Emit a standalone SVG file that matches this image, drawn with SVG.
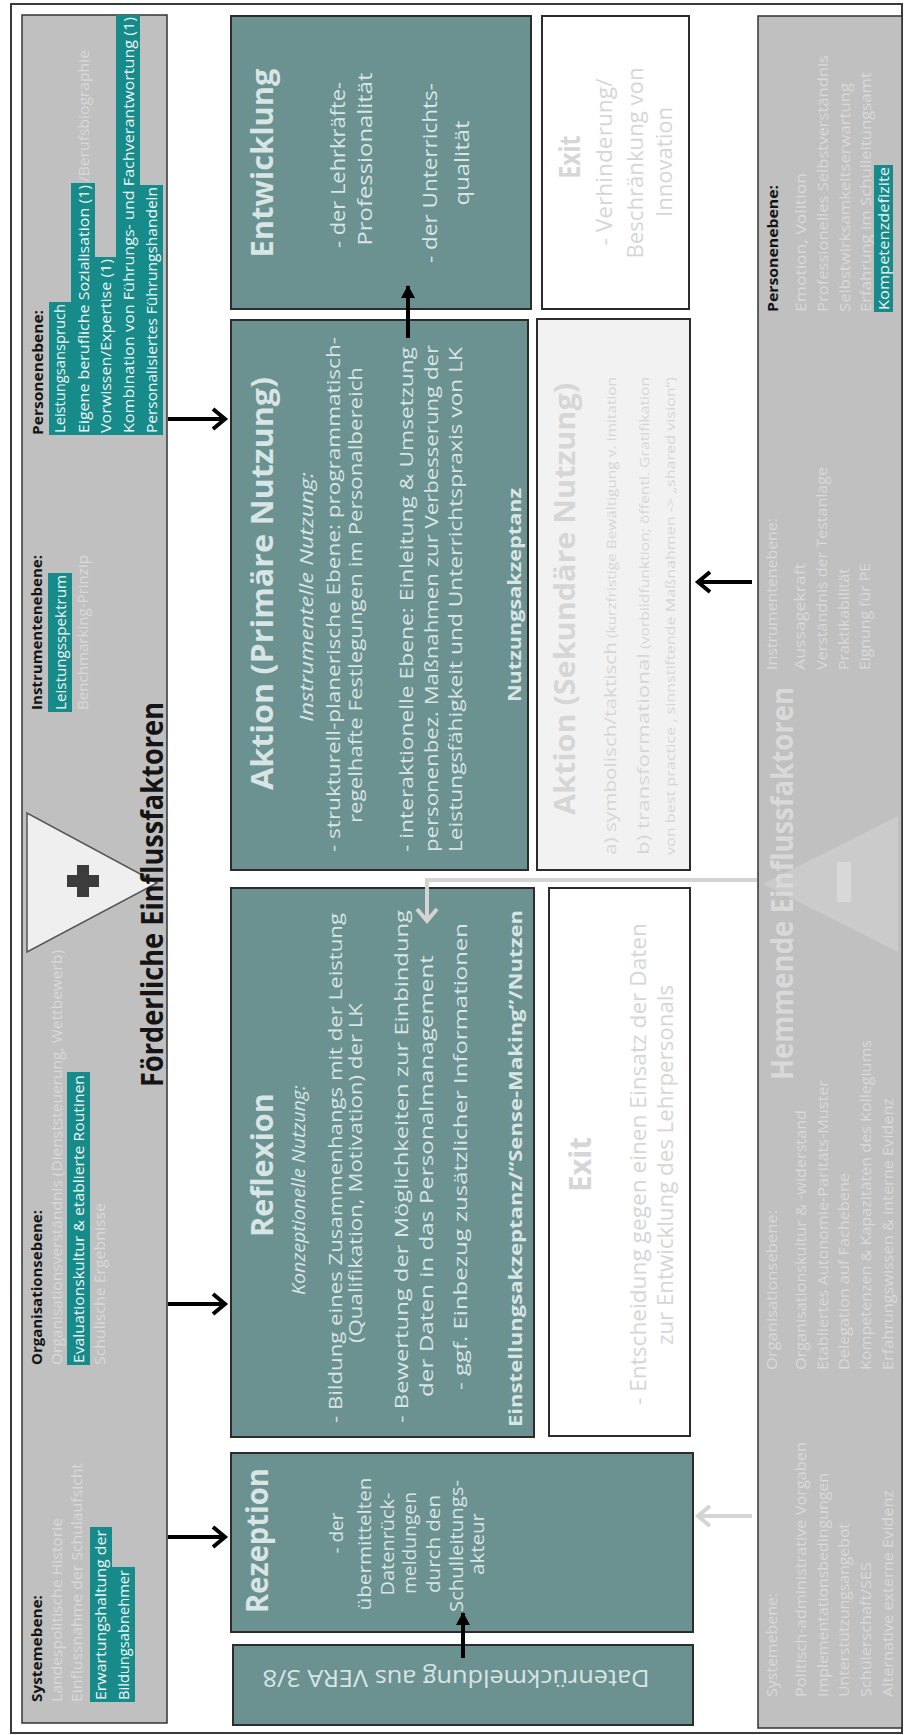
<svg xmlns="http://www.w3.org/2000/svg" width="904" height="1735" viewBox="0 0 904 1735">
  <style>
    .t { font-family: 'Open Sans', 'Liberation Sans', sans-serif; }
    .b { font-weight: bold; }
    .i { font-style: italic; }
    .bk { fill: #141414; }
    .ft { fill: #d9d9d9; }
    .lt { fill: #d8e5e5; }
    .xt { fill: #d6d6d6; }
    .ht { fill: #eef6f6; }
    .hl { fill: #178a8a; }
    .panel { fill: #c0c0c0; stroke: #333333; stroke-width: 1.5; }
    .teal { fill: #6b9191; stroke: #2c2c2c; stroke-width: 2; }
    .white { fill: #ffffff; stroke: #2c2c2c; stroke-width: 2; }
    .pale { fill: #f2f2f2; stroke: #2c2c2c; stroke-width: 2; }
    .arr { fill: none; stroke: #000000; stroke-width: 4; }
    .garr { fill: none; stroke: #d4d4d4; stroke-width: 4; }
  </style>
  <defs>
    <marker id="chev" markerUnits="userSpaceOnUse" markerWidth="22" markerHeight="26" refX="15" refY="13" orient="auto">
      <path d="M3,3 L15,13 L3,23" fill="none" stroke="#000000" stroke-width="4" stroke-linejoin="miter"/>
    </marker>
    <marker id="chevg" markerUnits="userSpaceOnUse" markerWidth="22" markerHeight="26" refX="15" refY="13" orient="auto">
      <path d="M3,3 L15,13 L3,23" fill="none" stroke="#d4d4d4" stroke-width="4" stroke-linejoin="miter"/>
    </marker>
    <marker id="tri" markerUnits="userSpaceOnUse" markerWidth="16" markerHeight="16" refX="12" refY="8" orient="auto">
      <path d="M0,1 L13,8 L0,15 Z" fill="#000000"/>
    </marker>
  </defs>

  <rect x="0" y="0" width="904" height="1735" fill="#ffffff"/>
  <rect x="11" y="4" width="891" height="1729" fill="none" stroke="#3a3a3a" stroke-width="2"/>

  <!-- landscape layout, turned a quarter to the left -->
  <g transform="translate(0,1735) rotate(-90)">

    <!-- supporting factors panel -->
    <g id="foerderliche-faktoren">
      <rect class="panel" x="12" y="22" width="1708" height="145"/>
      <polygon points="783,27 922,27 852,157" fill="#efefef" stroke="#555555" stroke-width="1.5"/>
      <path d="M848,67 h12 v10 h10 v12 h-10 v10 h-12 v-10 h-10 v-12 h10 z" fill="#3c3c3c"/>

      <text class="t b bk" x="33" y="42" font-size="14" textLength="107" lengthAdjust="spacingAndGlyphs">Systemebene:</text>
      <text class="t ft" x="33" y="62" font-size="14" textLength="184" lengthAdjust="spacingAndGlyphs">Landespolitische  Historie</text>
      <text class="t ft" x="33" y="82" font-size="14" textLength="239" lengthAdjust="spacingAndGlyphs">Einflussnahme der Schulaufsicht</text>
      <rect class="hl" x="33" y="90" width="175" height="22"/>
      <text class="t ht" x="35" y="106" font-size="14" textLength="170" lengthAdjust="spacingAndGlyphs">Erwartungshaltung  der</text>
      <rect class="hl" x="33" y="112" width="135" height="23"/>
      <text class="t ht" x="35" y="129" font-size="14" textLength="130" lengthAdjust="spacingAndGlyphs">Bildungsabnehmer</text>

      <text class="t b bk" x="370" y="42" font-size="14" textLength="155" lengthAdjust="spacingAndGlyphs">Organisationsebene:</text>
      <text class="t ft" x="370" y="62" font-size="14" textLength="415" lengthAdjust="spacingAndGlyphs">Organisationsverständnis (Dienststeuerung,  Wettbewerb)</text>
      <rect class="hl" x="370" y="67" width="293" height="23"/>
      <text class="t ht" x="372" y="84" font-size="14" textLength="288" lengthAdjust="spacingAndGlyphs">Evaluationskultur &amp; etablierte Routinen</text>
      <text class="t ft" x="370" y="105" font-size="14" textLength="162" lengthAdjust="spacingAndGlyphs">Schulische Ergebnisse</text>

      <text class="t b bk" x="1025" y="42" font-size="14" textLength="155" lengthAdjust="spacingAndGlyphs">Instrumentenebene:</text>
      <rect class="hl" x="1023" y="48" width="139" height="24"/>
      <text class="t ht" x="1025" y="66" font-size="14" textLength="135" lengthAdjust="spacingAndGlyphs">Leistungsspektrum</text>
      <text class="t ft" x="1025" y="88" font-size="14" textLength="155" lengthAdjust="spacingAndGlyphs">Benchmarking-Prinzip</text>

      <text class="t b bk" x="1300" y="43" font-size="14" textLength="125" lengthAdjust="spacingAndGlyphs">Personenebene:</text>
      <rect class="hl" x="1300" y="49" width="133" height="22"/>
      <text class="t ht" x="1302" y="65" font-size="14" textLength="129" lengthAdjust="spacingAndGlyphs">Leistungsanspruch</text>
      <rect class="hl" x="1300" y="71" width="252" height="24"/>
      <text class="t ht" x="1302" y="89" font-size="14" textLength="248" lengthAdjust="spacingAndGlyphs">Eigene berufliche  Sozialisation (1)</text>
      <text class="t ft" x="1553" y="89" font-size="14" textLength="132" lengthAdjust="spacingAndGlyphs">/Berufsbiographie</text>
      <rect class="hl" x="1300" y="95" width="178" height="21"/>
      <text class="t ht" x="1302" y="111" font-size="14" textLength="174" lengthAdjust="spacingAndGlyphs">Vorwissen/Expertise (1)</text>
      <rect class="hl" x="1300" y="116" width="420" height="24"/>
      <text class="t ht" x="1302" y="134" font-size="14" textLength="416" lengthAdjust="spacingAndGlyphs">Kombination von Führungs- und Fachverantwortung (1)</text>
      <rect class="hl" x="1300" y="140" width="250" height="23"/>
      <text class="t ht" x="1302" y="157" font-size="14" textLength="246" lengthAdjust="spacingAndGlyphs">Personalisiertes  Führungshandeln</text>

      <text class="t b bk" x="648" y="163" font-size="30" textLength="385" lengthAdjust="spacingAndGlyphs">Förderliche Einflussfaktoren</text>
    </g>

    <!-- hindering factors panel -->
    <g id="hemmende-faktoren">
      <rect class="panel" x="7" y="758" width="1712" height="144"/>
      <polygon points="783,898 919,898 851,763" fill="#cbcbcb"/>
      <rect x="833" y="837" width="40" height="14" fill="#d8d8d8"/>

      <text class="t ft" x="38" y="777" font-size="14" textLength="104" lengthAdjust="spacingAndGlyphs">Systemebene:</text>
      <text class="t ft" x="38" y="806" font-size="14" textLength="255" lengthAdjust="spacingAndGlyphs">Politisch-administrative  Vorgaben</text>
      <text class="t ft" x="38" y="828" font-size="14" textLength="224" lengthAdjust="spacingAndGlyphs">Implementationsbedingungen</text>
      <text class="t ft" x="38" y="849" font-size="14" textLength="174" lengthAdjust="spacingAndGlyphs">Unterstützungsangebot</text>
      <text class="t ft" x="38" y="871" font-size="14" textLength="135" lengthAdjust="spacingAndGlyphs">Schülerschaft/SES</text>
      <text class="t ft" x="38" y="893" font-size="14" textLength="207" lengthAdjust="spacingAndGlyphs">Alternative  externe Evidenz</text>

      <text class="t ft" x="365" y="777" font-size="14" textLength="160" lengthAdjust="spacingAndGlyphs">Organisationsebene:</text>
      <text class="t ft" x="365" y="806" font-size="14" textLength="260" lengthAdjust="spacingAndGlyphs">Organisationskultur &amp; -widerstand</text>
      <text class="t ft" x="365" y="828" font-size="14" textLength="290" lengthAdjust="spacingAndGlyphs">Etabliertes Autonomie-Paritäts-Muster</text>
      <text class="t ft" x="365" y="849" font-size="14" textLength="197" lengthAdjust="spacingAndGlyphs">Delegation auf Fachebene</text>
      <text class="t ft" x="365" y="871" font-size="14" textLength="330" lengthAdjust="spacingAndGlyphs">Kompetenzen &amp; Kapazitäten  des Kollegiums</text>
      <text class="t ft" x="365" y="893" font-size="14" textLength="272" lengthAdjust="spacingAndGlyphs">Erfahrungswissen &amp; interne Evidenz</text>

      <text class="t ft" x="1065" y="777" font-size="14" textLength="152" lengthAdjust="spacingAndGlyphs">Instrumentenebene:</text>
      <text class="t ft" x="1065" y="805" font-size="14" textLength="107" lengthAdjust="spacingAndGlyphs">Aussagekraft</text>
      <text class="t ft" x="1065" y="827" font-size="14" textLength="203" lengthAdjust="spacingAndGlyphs">Verständnis der Testanlage</text>
      <text class="t ft" x="1065" y="849" font-size="14" textLength="102" lengthAdjust="spacingAndGlyphs">Praktikabilität</text>
      <text class="t ft" x="1065" y="870" font-size="14" textLength="107" lengthAdjust="spacingAndGlyphs">Eignung für PE</text>

      <text class="t b bk" x="1423" y="778" font-size="14" textLength="127" lengthAdjust="spacingAndGlyphs">Personenebene:</text>
      <text class="t ft" x="1423" y="806" font-size="14" textLength="139" lengthAdjust="spacingAndGlyphs">Emotion, Volition</text>
      <text class="t ft" x="1423" y="828" font-size="14" textLength="257" lengthAdjust="spacingAndGlyphs">Professionelles  Selbstverständnis</text>
      <text class="t ft" x="1423" y="850" font-size="14" textLength="229" lengthAdjust="spacingAndGlyphs">Selbstwirksamkeitserwartung</text>
      <text class="t ft" x="1423" y="871" font-size="14" textLength="240" lengthAdjust="spacingAndGlyphs">Erfahrung im Schulleitungsamt</text>
      <rect class="hl" x="1423" y="874" width="147" height="19"/>
      <text class="t ht" x="1425" y="889" font-size="14" textLength="143" lengthAdjust="spacingAndGlyphs">Kompetenzdefizite</text>

      <text class="t b ft" x="655" y="793" font-size="30" textLength="393" lengthAdjust="spacingAndGlyphs">Hemmende Einflussfaktoren</text>
    </g>

    <!-- data feedback -->
    <g id="datenrueckmeldung">
      <rect class="teal" x="10" y="233" width="80" height="460"/>
      <text class="t lt" transform="translate(65,456) rotate(-90)" text-anchor="middle" font-size="24" textLength="387" lengthAdjust="spacingAndGlyphs">Datenrückmeldung  aus VERA 3/8</text>
    </g>

    <!-- reception -->
    <g id="rezeption">
      <rect class="teal" x="103" y="231" width="179" height="462"/>
      <text class="t b lt" x="122" y="268" font-size="30" textLength="145" lengthAdjust="spacingAndGlyphs">Rezeption</text>
      <g class="t lt" font-size="19" text-anchor="middle">
        <text x="202" y="343">- der</text>
        <text x="191" y="371" textLength="133" lengthAdjust="spacingAndGlyphs">übermittelten</text>
        <text x="191" y="394" textLength="103" lengthAdjust="spacingAndGlyphs">Datenrück-</text>
        <text x="192" y="416" textLength="102" lengthAdjust="spacingAndGlyphs">meldungen</text>
        <text x="191" y="440" textLength="98" lengthAdjust="spacingAndGlyphs">durch den</text>
        <text x="189" y="463" textLength="132" lengthAdjust="spacingAndGlyphs">Schulleitungs-</text>
        <text x="191" y="484" textLength="62" lengthAdjust="spacingAndGlyphs">akteur</text>
      </g>
    </g>

    <!-- reflection -->
    <g id="reflexion">
      <rect class="teal" x="298" y="231" width="549" height="303"/>
      <text class="t b lt" x="498" y="273" font-size="30" textLength="144" lengthAdjust="spacingAndGlyphs">Reflexion</text>
      <text class="t i lt" x="440" y="305" font-size="18" textLength="210" lengthAdjust="spacingAndGlyphs">Konzeptionelle Nutzung:</text>
      <g class="t lt" font-size="18">
        <text x="312" y="342" textLength="510" lengthAdjust="spacingAndGlyphs">- Bildung eines Zusammenhangs mit der Leistung</text>
        <text x="392" y="362" textLength="340" lengthAdjust="spacingAndGlyphs">(Qualifikation,  Motivation) der LK</text>
        <text x="312" y="408" textLength="513" lengthAdjust="spacingAndGlyphs">- Bewertung der Möglichkeiten zur Einbindung</text>
        <text x="338" y="433" textLength="442" lengthAdjust="spacingAndGlyphs">der Daten in das Personalmanagement</text>
        <text x="345" y="467" textLength="467" lengthAdjust="spacingAndGlyphs">- ggf. Einbezug zusätzlicher Informationen</text>
      </g>
      <text class="t b lt" x="308" y="522" font-size="18" textLength="517" lengthAdjust="spacingAndGlyphs">Einstellungsakzeptanz/“Sense-Making”/Nutzen</text>
    </g>

    <!-- exit after reflection -->
    <g id="exit-reflexion">
      <rect class="white" x="299" y="549" width="548" height="141"/>
      <text class="t b xt" x="543" y="591" font-size="30" textLength="55" lengthAdjust="spacingAndGlyphs">Exit</text>
      <text class="t xt" x="330" y="646" font-size="21" textLength="482" lengthAdjust="spacingAndGlyphs">- Entscheidung gegen einen Einsatz der Daten</text>
      <text class="t xt" x="390" y="673" font-size="21" textLength="360" lengthAdjust="spacingAndGlyphs">zur Entwicklung des Lehrpersonals</text>
    </g>

    <!-- primary use -->
    <g id="aktion-primaer">
      <rect class="teal" x="865" y="231" width="550" height="297"/>
      <text class="t b lt" x="945" y="273" font-size="30" textLength="413" lengthAdjust="spacingAndGlyphs">Aktion (Primäre Nutzung)</text>
      <text class="t i lt" x="1013" y="313" font-size="18" textLength="250" lengthAdjust="spacingAndGlyphs">Instrumentelle Nutzung:</text>
      <g class="t lt" font-size="18">
        <text x="883" y="340" textLength="515" lengthAdjust="spacingAndGlyphs">- strukturell-planerische  Ebene: programmatisch-</text>
        <text x="912" y="362" textLength="456" lengthAdjust="spacingAndGlyphs">regelhafte Festlegungen im Personalbereich</text>
        <text x="883" y="413" textLength="505" lengthAdjust="spacingAndGlyphs">- interaktionelle Ebene: Einleitung &amp; Umsetzung</text>
        <text x="883" y="438" textLength="507" lengthAdjust="spacingAndGlyphs">personenbez. Maßnahmen zur Verbesserung der</text>
        <text x="883" y="462" textLength="505" lengthAdjust="spacingAndGlyphs">Leistungsfähigkeit und Unterrichtspraxis von LK</text>
      </g>
      <text class="t b lt" x="1033" y="521" font-size="18" textLength="214" lengthAdjust="spacingAndGlyphs">Nutzungsakzeptanz</text>
    </g>

    <!-- secondary use -->
    <g id="aktion-sekundaer">
      <rect class="pale" x="865" y="537" width="551" height="153"/>
      <text class="t b xt" x="920" y="575" font-size="28" textLength="432" lengthAdjust="spacingAndGlyphs">Aktion (Sekundäre Nutzung)</text>
      <text class="t xt" x="880" y="616" font-size="17" textLength="213" lengthAdjust="spacingAndGlyphs">a) symbolisch/taktisch</text>
      <text class="t xt" x="1097" y="616" font-size="12" textLength="261" lengthAdjust="spacingAndGlyphs">(kurzfristige Bewältigung v. Imitation</text>
      <text class="t xt" x="880" y="649" font-size="17" textLength="202" lengthAdjust="spacingAndGlyphs">b) transformational</text>
      <text class="t xt" x="1086" y="649" font-size="12" textLength="272" lengthAdjust="spacingAndGlyphs">(vorbildfunktion;  öffentl.  Gratifikation</text>
      <text class="t xt" x="880" y="675" font-size="12" textLength="478" lengthAdjust="spacingAndGlyphs">von best practice , sinnstiftende  Maßnahmen -&gt; „shared vision“)</text>
    </g>

    <!-- development -->
    <g id="entwicklung">
      <rect class="teal" x="1426" y="231" width="293" height="300"/>
      <text class="t b lt" x="1572" y="273" font-size="30" text-anchor="middle" textLength="189" lengthAdjust="spacingAndGlyphs">Entwicklung</text>
      <g class="t lt" font-size="20" text-anchor="middle">
        <text x="1570" y="345" textLength="166" lengthAdjust="spacingAndGlyphs">- der Lehrkräfte-</text>
        <text x="1576" y="372" textLength="173" lengthAdjust="spacingAndGlyphs">Professionalität</text>
        <text x="1562" y="437" textLength="180" lengthAdjust="spacingAndGlyphs">- der Unterrichts-</text>
        <text x="1572" y="469" textLength="85" lengthAdjust="spacingAndGlyphs">qualität</text>
      </g>
    </g>

    <!-- exit after action -->
    <g id="exit-aktion">
      <rect class="white" x="1426" y="542" width="293" height="147"/>
      <text class="t b xt" x="1578" y="580" font-size="28" text-anchor="middle" textLength="43" lengthAdjust="spacingAndGlyphs">Exit</text>
      <g class="t xt" font-size="21" text-anchor="middle">
        <text x="1573" y="612" textLength="167" lengthAdjust="spacingAndGlyphs">- Verhinderung/</text>
        <text x="1572" y="643" textLength="191" lengthAdjust="spacingAndGlyphs">Beschränkung von</text>
        <text x="1573" y="672" textLength="110" lengthAdjust="spacingAndGlyphs">Innovation</text>
      </g>
    </g>

    <!-- connectors -->
    <g id="connectors">
      <path class="arr" d="M1316,168 V225" marker-end="url(#chev)"/>
      <path class="arr" d="M431,168 V225" marker-end="url(#chev)"/>
      <path class="arr" d="M198,168 V225" marker-end="url(#chev)"/>
      <path class="arr" d="M1397,408 H1449" marker-end="url(#tri)"/>
      <path class="arr" d="M77,463 H122" marker-end="url(#tri)"/>
      <path class="arr" d="M1153,752 V698" marker-end="url(#chev)"/>
      <path class="garr" d="M219,752 V698" marker-end="url(#chevg)"/>
      <path class="garr" d="M855,757 V427 H814" marker-end="url(#chevg)"/>
    </g>
  </g>
</svg>
